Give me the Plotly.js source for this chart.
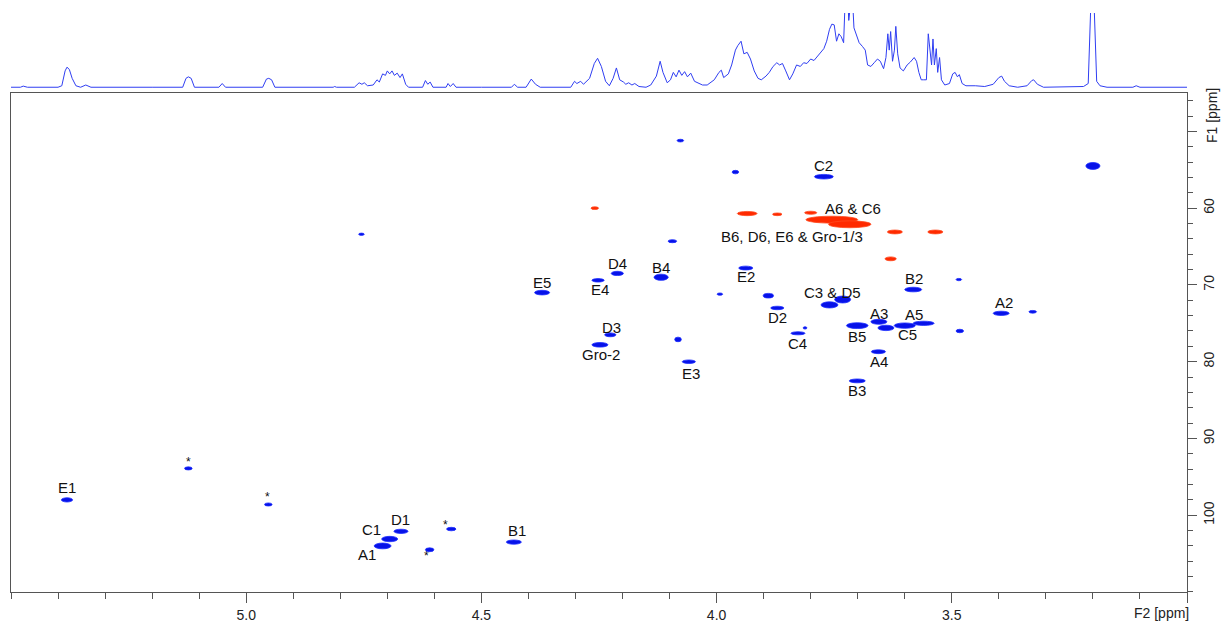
<!DOCTYPE html>
<html>
<head>
<meta charset="utf-8">
<script src="https://cdn.plot.ly/plotly-3.0.1.min.js"></script>
<style>html,body{margin:0;padding:0;background:#fff;}#chart{width:1221px;height:623px;}</style>
</head>
<body>
<div id="chart"></div>
<script>
// ---------- 1D projection (F2, 1H) ----------
const specPpm = [5.500,5.480,5.474,5.465,5.400,5.392,5.385,5.381,5.376,5.370,5.362,5.352,5.341,5.330,5.200,5.135,5.128,5.123,5.117,5.110,5.058,5.051,5.044,4.965,4.957,4.952,4.946,4.939,4.815,4.812,4.808,4.770,4.760,4.754,4.749,4.742,4.730,4.722,4.717,4.710,4.704,4.700,4.695,4.690,4.685,4.679,4.673,4.668,4.661,4.655,4.625,4.619,4.614,4.609,4.603,4.575,4.571,4.566,4.560,4.554,4.500,4.436,4.430,4.423,4.405,4.394,4.385,4.375,4.310,4.302,4.297,4.289,4.283,4.270,4.260,4.253,4.245,4.236,4.228,4.220,4.213,4.206,4.198,4.193,4.187,4.180,4.174,4.165,4.150,4.140,4.128,4.120,4.114,4.105,4.098,4.092,4.086,4.080,4.074,4.068,4.062,4.055,4.047,4.040,4.030,4.020,4.005,3.995,3.990,3.985,3.975,3.968,3.960,3.955,3.948,3.942,3.935,3.928,3.920,3.912,3.905,3.895,3.888,3.880,3.872,3.866,3.860,3.853,3.845,3.838,3.830,3.822,3.815,3.808,3.800,3.793,3.785,3.778,3.772,3.766,3.760,3.755,3.750,3.745,3.740,3.735,3.730,3.726,3.722,3.719,3.716,3.712,3.708,3.703,3.697,3.690,3.684,3.679,3.672,3.665,3.658,3.652,3.645,3.640,3.636,3.633,3.630,3.626,3.622,3.619,3.615,3.610,3.603,3.595,3.588,3.580,3.575,3.570,3.565,3.560,3.554,3.550,3.546,3.543,3.540,3.537,3.533,3.530,3.526,3.522,3.515,3.505,3.498,3.493,3.488,3.484,3.478,3.470,3.450,3.430,3.412,3.400,3.394,3.388,3.378,3.360,3.340,3.330,3.326,3.318,3.305,3.250,3.220,3.210,3.206,3.203,3.199,3.196,3.192,3.185,3.170,3.115,3.108,3.100,3.000];
const specInt = [0,0,0.015,0,0,0.02,0.22,0.27,0.24,0.12,0.02,0,0.03,0,0,0,0.12,0.14,0.12,0,0,0.05,0,0,0.11,0.12,0.10,0,0,0.01,0,0,0.06,0.04,0.06,0.02,0.03,0.10,0.07,0.18,0.16,0.22,0.18,0.22,0.16,0.19,0.13,0.18,0.04,0,0,0.09,0.04,0.07,0,0,0.05,0.01,0.05,0,0,0,0.04,0,0,0.11,0.04,0,0,0.08,0.05,0.08,0.04,0.12,0.32,0.39,0.28,0.08,0.02,0.12,0.26,0.10,0.07,0.04,0.06,0.03,0.05,0.01,0,0.03,0.15,0.35,0.20,0.06,0.10,0.20,0.14,0.23,0.16,0.21,0.14,0.19,0.08,0.06,0.03,0.03,0.10,0.20,0.23,0.13,0.18,0.30,0.50,0.56,0.62,0.45,0.47,0.38,0.22,0.12,0.10,0.15,0.20,0.28,0.33,0.30,0.32,0.22,0.10,0.18,0.30,0.28,0.33,0.32,0.38,0.36,0.42,0.47,0.52,0.62,0.78,0.85,0.84,0.62,0.72,0.68,0.60,1.3,1.3,0.9,1.3,1.3,0.8,0.7,0.6,0.55,0.5,0.3,0.28,0.33,0.38,0.35,0.25,0.40,0.72,0.50,0.75,0.35,0.50,0.82,0.45,0.26,0.22,0.30,0.34,0.40,0.35,0.20,0.10,0.10,0.10,0.72,0.50,0.30,0.65,0.30,0.52,0.20,0.40,0.10,0.03,0.05,0.18,0.20,0.14,0.17,0.05,0.02,0.02,0.01,0.04,0.13,0.15,0.08,0.02,0,0.02,0.09,0.10,0.04,0,0,0.01,0.05,0.8,1.4,1.4,0.8,0.08,0.02,0,0,0.02,0,0];

// ---------- 2D cross peaks (F2 1H ppm, F1 13C ppm) ----------
const peakF2 = [5.381,5.123,4.953,4.710,4.695,4.671,4.610,4.564,4.431,4.371,4.252,4.211,4.118,4.226,4.248,4.082,4.059,4.755,4.094,4.077,3.960,3.772,3.993,3.938,3.890,3.871,3.760,3.732,3.827,3.812,3.582,3.485,3.655,3.701,3.640,3.600,3.560,3.483,3.656,3.701,3.395,3.328,3.200,
                4.259,3.935,3.871,3.800,3.755,3.717,3.621,3.535,3.630];
const peakF1 = [98.0,93.9,98.6,104.0,103.1,102.1,104.5,101.8,103.5,71.0,69.4,68.5,69.0,76.5,77.8,77.1,80.0,63.4,64.3,51.2,55.3,55.9,71.2,67.8,71.4,73.0,72.6,71.9,76.3,75.6,70.6,69.3,74.8,75.3,75.6,75.3,75.0,76.0,78.7,82.5,73.7,73.5,54.5,
                60.0,60.7,60.8,60.6,61.5,62.1,63.1,63.1,66.6];
const peakWidthF2 = [0.024,0.016,0.016,0.036,0.034,0.030,0.018,0.020,0.032,0.032,0.026,0.026,0.030,0.024,0.034,0.014,0.028,0.012,0.018,0.014,0.014,0.040,0.012,0.030,0.022,0.028,0.036,0.034,0.030,0.008,0.036,0.012,0.034,0.046,0.034,0.045,0.045,0.016,0.030,0.034,0.034,0.016,0.030,
                0.016,0.042,0.020,0.026,0.110,0.090,0.032,0.032,0.024];
const peakWidthF1 = [0.55,0.4,0.4,0.75,0.7,0.55,0.5,0.45,0.55,0.6,0.45,0.55,0.8,0.5,0.6,0.6,0.45,0.3,0.4,0.35,0.45,0.6,0.3,0.5,0.6,0.45,0.8,0.9,0.4,0.3,0.6,0.3,0.65,0.75,0.7,0.7,0.55,0.45,0.5,0.5,0.55,0.35,0.9,
                0.35,0.55,0.35,0.4,0.9,0.9,0.5,0.5,0.5];
const peakPhase = [1,1,1,1,1,1,1,1,1,1,1,1,1,1,1,1,1,1,1,1,1,1,1,1,1,1,1,1,1,1,1,1,1,1,1,1,1,1,1,1,1,1,1,
                   -1,-1,-1,-1,-1,-1,-1,-1,-1];

// ---------- assignments ----------
const labelText = ['E1','*','*','*','*','A1','C1','D1','B1','E5','E4','D4','B4','D3','Gro-2','E3','E2','C2','A6 & C6','B6, D6, E6 & Gro-1/3','C3 & D5','D2','C4','B2','A3','A5','B5','C5','A4','B3','A2'];
const labelF2 = [5.381,5.123,4.955,4.616,4.577,4.744,4.734,4.673,4.424,4.371,4.248,4.211,4.118,4.224,4.245,4.055,3.938,3.772,3.711,3.839,3.754,3.871,3.827,3.581,3.655,3.581,3.701,3.594,3.655,3.701,3.389];
const labelF1 = [96.4,93.1,97.6,105.3,101.25,105.1,101.9,100.5,102.0,69.7,70.6,67.2,67.7,75.5,79.1,81.5,68.9,54.5,60.0,63.7,71.0,74.3,77.6,69.2,73.7,73.9,76.7,76.4,80.0,83.8,72.3];

// ---------- build ----------
const BLUE_FILL = '#0712e8', BLUE_LINE = '#1a2cff';
const RED_FILL = '#ff2a00', RED_LINE = '#ff4a20';

const shapes = peakF2.map((x, i) => ({
  type: 'circle', xref: 'x', yref: 'y',
  x0: x - peakWidthF2[i] / 2, x1: x + peakWidthF2[i] / 2,
  y0: peakF1[i] - peakWidthF1[i] / 2, y1: peakF1[i] + peakWidthF1[i] / 2,
  fillcolor: peakPhase[i] > 0 ? BLUE_FILL : RED_FILL,
  line: {color: peakPhase[i] > 0 ? BLUE_LINE : RED_LINE, width: 0.8}
}));

const FONT = 'Liberation Sans, Arial, Helvetica, sans-serif';

const annotations = labelText.map((t, i) => ({
  x: labelF2[i], y: labelF1[i], xref: 'x', yref: 'y', text: t, showarrow: false,
  xanchor: 'center', yanchor: 'middle',
  font: {family: FONT, size: t === '*' ? 12 : 15, color: '#111'}
}));
annotations.push({x: 1, xref: 'paper', xshift: 25, y: 48, yref: 'y', text: 'F1 [ppm]', textangle: -90,
  showarrow: false, xanchor: 'center', yanchor: 'middle', font: {family: FONT, size: 14, color: '#222'}});
annotations.push({x: 3.055, xref: 'x', y: 0, yref: 'paper', yshift: -21, text: 'F2 [ppm]',
  showarrow: false, xanchor: 'center', yanchor: 'middle', font: {family: FONT, size: 14, color: '#222'}});

const traces = [
  {x: specPpm, y: specInt, xaxis: 'x', yaxis: 'y2', type: 'scatter', mode: 'lines',
   line: {color: '#2f3ef2', width: 1}, hoverinfo: 'x'},
  {x: peakF2, y: peakF1, xaxis: 'x', yaxis: 'y', type: 'scatter', mode: 'markers',
   marker: {size: 6, opacity: 0}, hoverinfo: 'x+y'}
];

const axisColor = '#555';
const layout = {
  width: 1221, height: 623,
  margin: {l: 11, r: 34, t: 13, b: 31},
  paper_bgcolor: '#fff', plot_bgcolor: '#fff',
  showlegend: false,
  font: {family: FONT, color: '#222'},
  xaxis: {
    range: [5.5, 3.0], anchor: 'y', domain: [0, 1],
    showline: true, linecolor: axisColor, linewidth: 1, mirror: true,
    showgrid: false, zeroline: false,
    ticks: 'outside', ticklen: 10, tickcolor: axisColor, tickwidth: 1,
    tickvals: [5.0, 4.5, 4.0, 3.5, 3.0], ticktext: ['5.0', '4.5', '4.0', '3.5', ''],
    tickfont: {family: FONT, size: 14, color: '#222'},
    minor: {dtick: 0.1, tick0: 0, ticks: 'outside', ticklen: 6, tickcolor: axisColor, showgrid: false}
  },
  yaxis: {
    range: [110, 45], domain: [0, 0.8618], anchor: 'x', side: 'right',
    showline: true, linecolor: axisColor, linewidth: 1, mirror: true,
    showgrid: false, zeroline: false,
    ticks: 'outside', ticklen: 9, tickcolor: axisColor, tickwidth: 1,
    tickvals: [50, 60, 70, 80, 90, 100], ticktext: ['', '60', '70', '80', '90', '100'],
    tickangle: -90,
    tickfont: {family: FONT, size: 14, color: '#222'},
    minor: {dtick: 2, tick0: 0, ticks: 'outside', ticklen: 5, tickcolor: axisColor, showgrid: false}
  },
  yaxis2: {
    domain: [0.8705, 1], anchor: 'x', range: [-0.01, 1],
    visible: false, showgrid: false, zeroline: false
  },
  shapes: shapes,
  annotations: annotations
};

Plotly.newPlot('chart', traces, layout, {displayModeBar: false, staticPlot: true});
</script>
</body>
</html>
